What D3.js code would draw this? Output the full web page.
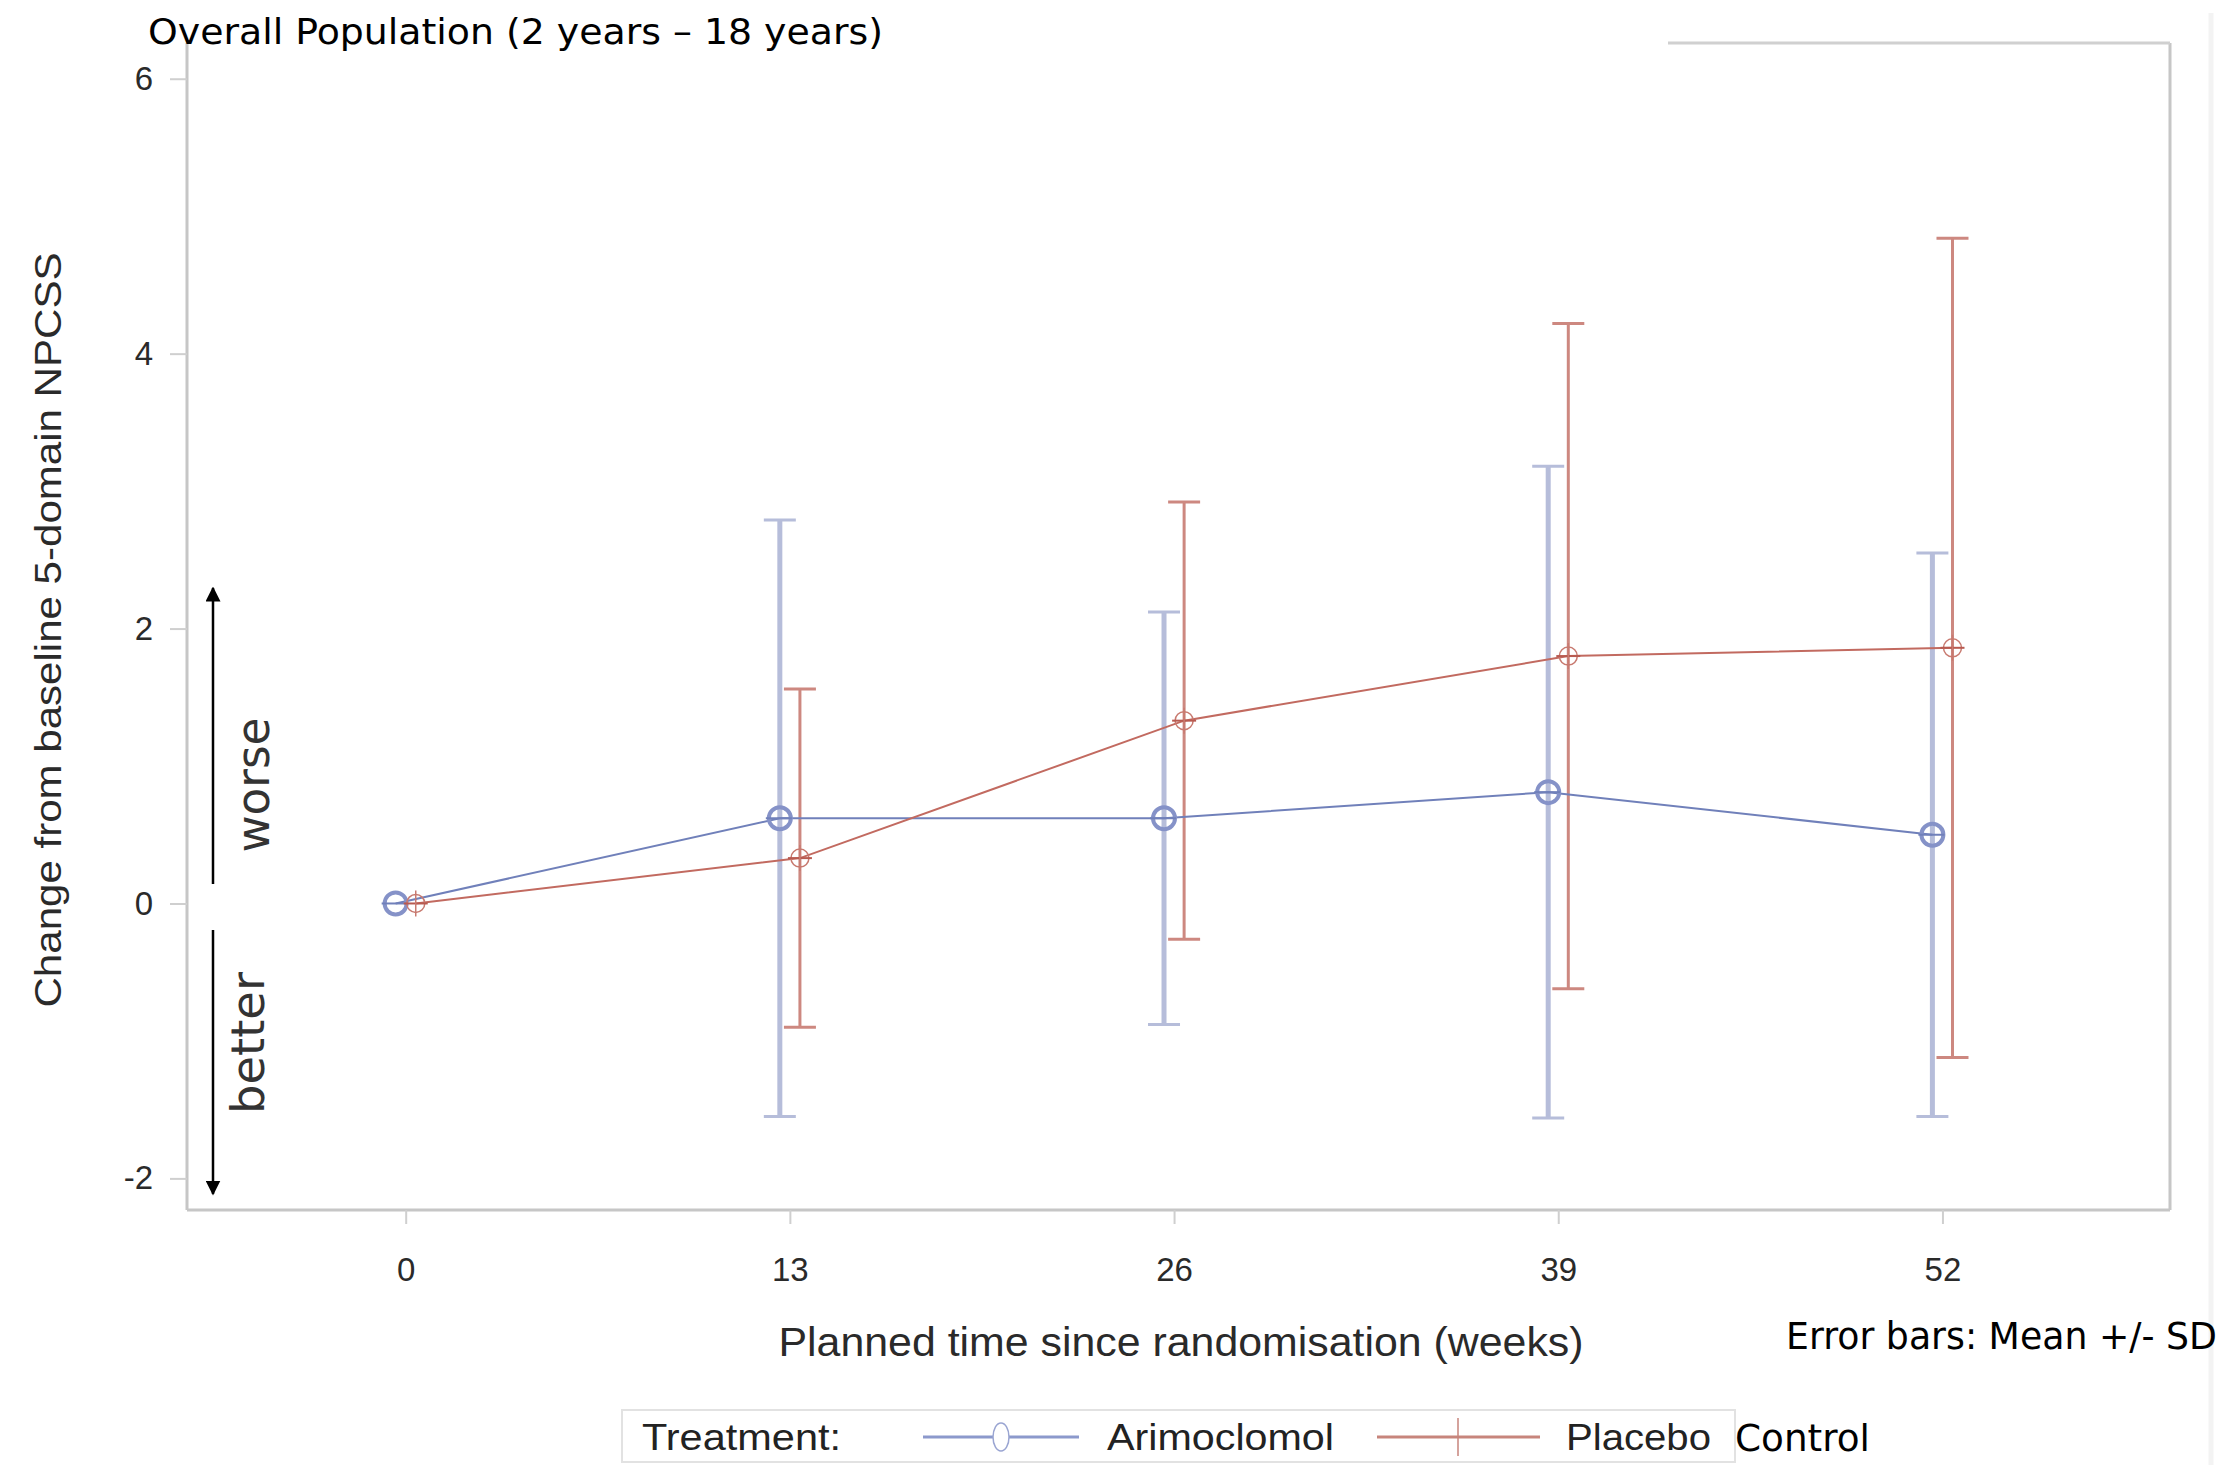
<!DOCTYPE html>
<html>
<head>
<meta charset="utf-8">
<script src="https://cdn.jsdelivr.net/npm/d3@7"></script>
<style>
body { margin: 0; background: #fff; }
svg { display: block; }
</style>
</head>
<body>
<svg id="chart" width="2226" height="1465"></svg>
<script>
// data
var weeks = [0, 13, 26, 39, 52];
var weekTicks = [0, 13, 26, 39, 52];
var valueTicks = [-2, 0, 2, 4, 6];
var arimoclomolMean = [0, 0.62, 0.62, 0.81, 0.50];
var arimoclomolSD = [0, 2.17, 1.50, 2.37, 2.05];
var placeboMean = [0, 0.33, 1.33, 1.80, 1.86];
var placeboSD = [0, 1.23, 1.59, 2.42, 2.98];
var seriesNames = ["Arimoclomol", "Placebo"];

var svg = d3.select("#chart");

var plotLeft = 187, plotRight = 2170, plotTop = 43, plotBottom = 1210;

var x = d3.scaleLinear().domain([-7.4, 59.7]).range([plotLeft, plotRight]);
var y = d3.scaleLinear().domain([-2.23, 6.26]).range([plotBottom, plotTop]);

var series = [
  { name: seriesNames[0], mean: arimoclomolMean, sd: arimoclomolSD, dodge: -0.34,
    line: "#7080ba", bar: "#b6bdda", barWidth: 5, marker: "circle" },
  { name: seriesNames[1], mean: placeboMean, sd: placeboSD, dodge: 0.34,
    line: "#c26a60", bar: "#cd8880", barWidth: 3, marker: "plus" }
];

function points(s) {
  return weeks.map(function(w, i) {
    return { week: w, mean: s.mean[i], sd: s.sd[i] };
  });
}

// faint page edge on the right
svg.append("line")
    .attr("x1", 2211).attr("x2", 2211)
    .attr("y1", 13).attr("y2", 1465)
    .attr("stroke", "#f3f3f3").attr("stroke-width", 5);

// frame
var frame = svg.append("g").attr("stroke", "#c6c6c6").attr("stroke-width", 3).attr("fill", "none");
frame.append("line").attr("x1", plotLeft).attr("x2", plotLeft).attr("y1", plotTop).attr("y2", plotBottom);
frame.append("line").attr("x1", plotLeft).attr("x2", plotRight).attr("y1", plotBottom).attr("y2", plotBottom);
frame.append("line").attr("x1", plotRight).attr("x2", plotRight).attr("y1", plotTop).attr("y2", plotBottom);
frame.append("line").attr("x1", 1668).attr("x2", plotRight).attr("y1", plotTop).attr("y2", plotTop)
    .attr("stroke", "#d0d0d0");

// axes
var yAxis = svg.append("g")
    .attr("transform", "translate(" + plotLeft + ",0)")
    .call(d3.axisLeft(y).tickValues(valueTicks).tickSize(17).tickPadding(17)
      .tickFormat(function(d) { return d < 0 ? "-" + Math.abs(d) : d; }));
yAxis.select(".domain").remove();

var xAxis = svg.append("g")
    .attr("transform", "translate(0," + plotBottom + ")")
    .call(d3.axisBottom(x).tickValues(weekTicks).tickSize(14).tickPadding(34));
xAxis.select(".domain").remove();

svg.selectAll(".tick line").attr("stroke", "#cfcfcf").attr("stroke-width", 2);
svg.selectAll(".tick text")
    .attr("font-family", "'Liberation Sans', Arial, sans-serif")
    .attr("font-size", 33)
    .attr("fill", "#2a2a2a");

// axis titles
svg.append("text")
    .attr("transform", "translate(61,630) rotate(-90)")
    .attr("text-anchor", "middle")
    .attr("font-family", "'Liberation Sans', Arial, sans-serif")
    .attr("font-size", 37)
    .attr("fill", "#2a2a2a")
    .attr("textLength", 755)
    .attr("lengthAdjust", "spacingAndGlyphs")
    .text("Change from baseline 5-domain NPCSS");

svg.append("text")
    .attr("x", 1181).attr("y", 1356)
    .attr("text-anchor", "middle")
    .attr("font-family", "'Liberation Sans', Arial, sans-serif")
    .attr("font-size", 40)
    .attr("fill", "#2a2a2a")
    .attr("textLength", 805)
    .attr("lengthAdjust", "spacingAndGlyphs")
    .text("Planned time since randomisation (weeks)");

// title and notes
svg.append("text")
    .attr("x", 148).attr("y", 44)
    .attr("font-family", "'DejaVu Sans', Verdana, sans-serif")
    .attr("font-size", 35)
    .attr("textLength", 735)
    .attr("lengthAdjust", "spacingAndGlyphs")
    .text("Overall Population (2 years \u2013 18 years)");

svg.append("text")
    .attr("x", 1786).attr("y", 1349)
    .attr("font-family", "'DejaVu Sans', Verdana, sans-serif")
    .attr("font-size", 37)
    .attr("textLength", 431)
    .attr("lengthAdjust", "spacingAndGlyphs")
    .text("Error bars: Mean +/- SD");

// worse / better arrows
var defs = svg.append("defs");
defs.append("marker")
    .attr("id", "head")
    .attr("viewBox", "0 0 10 10")
    .attr("refX", 9).attr("refY", 5)
    .attr("markerWidth", 6).attr("markerHeight", 6)
    .attr("markerUnits", "strokeWidth")
    .attr("orient", "auto")
  .append("path")
    .attr("d", "M0,0 L10,5 L0,10 Z")
    .attr("fill", "#000");

svg.append("line")
    .attr("x1", 213).attr("y1", 884).attr("x2", 213).attr("y2", 588)
    .attr("stroke", "#000").attr("stroke-width", 2.5)
    .attr("marker-end", "url(#head)");
svg.append("line")
    .attr("x1", 213).attr("y1", 930).attr("x2", 213).attr("y2", 1194)
    .attr("stroke", "#000").attr("stroke-width", 2.5)
    .attr("marker-end", "url(#head)");

svg.append("text")
    .attr("transform", "translate(269,785) rotate(-90)")
    .attr("text-anchor", "middle")
    .attr("font-family", "'DejaVu Sans', Verdana, sans-serif")
    .attr("font-size", 46)
    .attr("fill", "#333")
    .attr("textLength", 135)
    .attr("lengthAdjust", "spacingAndGlyphs")
    .text("worse");
svg.append("text")
    .attr("transform", "translate(264,1043) rotate(-90)")
    .attr("text-anchor", "middle")
    .attr("font-family", "'DejaVu Sans', Verdana, sans-serif")
    .attr("font-size", 46)
    .attr("fill", "#333")
    .attr("textLength", 142)
    .attr("lengthAdjust", "spacingAndGlyphs")
    .text("better");

// error bars
series.forEach(function(s) {
  var g = svg.append("g").attr("stroke", s.bar).attr("stroke-width", s.barWidth);
  var bars = points(s).filter(function(d) { return d.sd > 0; });
  g.selectAll("line.bar").data(bars).enter().append("line")
      .attr("x1", function(d) { return x(d.week + s.dodge); })
      .attr("x2", function(d) { return x(d.week + s.dodge); })
      .attr("y1", function(d) { return y(d.mean - d.sd); })
      .attr("y2", function(d) { return y(d.mean + d.sd); });
  [-1, 1].forEach(function(sign) {
    g.selectAll("line.cap" + sign).data(bars).enter().append("line")
        .attr("stroke-width", 3)
        .attr("x1", function(d) { return x(d.week + s.dodge) - 16; })
        .attr("x2", function(d) { return x(d.week + s.dodge) + 16; })
        .attr("y1", function(d) { return y(d.mean + sign * d.sd); })
        .attr("y2", function(d) { return y(d.mean + sign * d.sd); });
  });
});

// mean lines
var line = d3.line();
series.forEach(function(s) {
  svg.append("path")
      .datum(points(s))
      .attr("fill", "none")
      .attr("stroke", s.line)
      .attr("stroke-width", 2)
      .attr("d", line.x(function(d) { return x(d.week + s.dodge); })
                     .y(function(d) { return y(d.mean); }));
});

// markers
series.forEach(function(s) {
  var m = svg.append("g").selectAll("g").data(points(s)).enter().append("g")
      .attr("transform", function(d) {
        return "translate(" + x(d.week + s.dodge) + "," + y(d.mean) + ")";
      });
  if (s.marker == "circle") {
    m.append("circle").attr("r", 11)
        .attr("fill", "none").attr("stroke", "#8592c8").attr("stroke-width", 4);
    m.append("line").attr("x1", -14).attr("x2", 12)
        .attr("stroke", "#7080ba").attr("stroke-width", 2);
  } else {
    m.append("circle").attr("r", 9)
        .attr("fill", "none").attr("stroke", "#c87a70").attr("stroke-width", 1.5);
    m.append("line").attr("x1", -12).attr("x2", 12)
        .attr("stroke", "#b85a50").attr("stroke-width", 2);
    m.append("line").attr("y1", -13).attr("y2", 13)
        .attr("stroke", "#c87a70").attr("stroke-width", 1.5);
  }
});

// legend
var legend = svg.append("g");
legend.append("rect")
    .attr("x", 622).attr("y", 1410).attr("width", 1113).attr("height", 52)
    .attr("fill", "#fff").attr("stroke", "#e2e2e2").attr("stroke-width", 2);

var legendFont = "'Liberation Sans', Arial, sans-serif";
legend.append("text")
    .attr("x", 642).attr("y", 1450)
    .attr("font-family", legendFont).attr("font-size", 37).attr("fill", "#222")
    .attr("textLength", 199).attr("lengthAdjust", "spacingAndGlyphs")
    .text("Treatment:");

legend.append("line")
    .attr("x1", 923).attr("x2", 1079).attr("y1", 1437).attr("y2", 1437)
    .attr("stroke", "#8c99cc").attr("stroke-width", 3);
legend.append("ellipse")
    .attr("cx", 1001).attr("cy", 1437).attr("rx", 8).attr("ry", 14)
    .attr("fill", "#fff").attr("stroke", "#9aa5d2").attr("stroke-width", 1.5);
legend.append("text")
    .attr("x", 1107).attr("y", 1450)
    .attr("font-family", legendFont).attr("font-size", 37).attr("fill", "#222")
    .attr("textLength", 227).attr("lengthAdjust", "spacingAndGlyphs")
    .text(seriesNames[0]);

legend.append("line")
    .attr("x1", 1377).attr("x2", 1540).attr("y1", 1437).attr("y2", 1437)
    .attr("stroke", "#c7857c").attr("stroke-width", 3);
legend.append("line")
    .attr("x1", 1458).attr("x2", 1458).attr("y1", 1418).attr("y2", 1456)
    .attr("stroke", "#c7857c").attr("stroke-width", 1.5);
legend.append("text")
    .attr("x", 1566).attr("y", 1450)
    .attr("font-family", legendFont).attr("font-size", 37).attr("fill", "#222")
    .attr("textLength", 145).attr("lengthAdjust", "spacingAndGlyphs")
    .text(seriesNames[1]);

svg.append("text")
    .attr("x", 1735).attr("y", 1451)
    .attr("font-family", "'DejaVu Sans', Verdana, sans-serif")
    .attr("font-size", 38)
    .attr("textLength", 135).attr("lengthAdjust", "spacingAndGlyphs")
    .text("Control");
</script>
</body>
</html>
